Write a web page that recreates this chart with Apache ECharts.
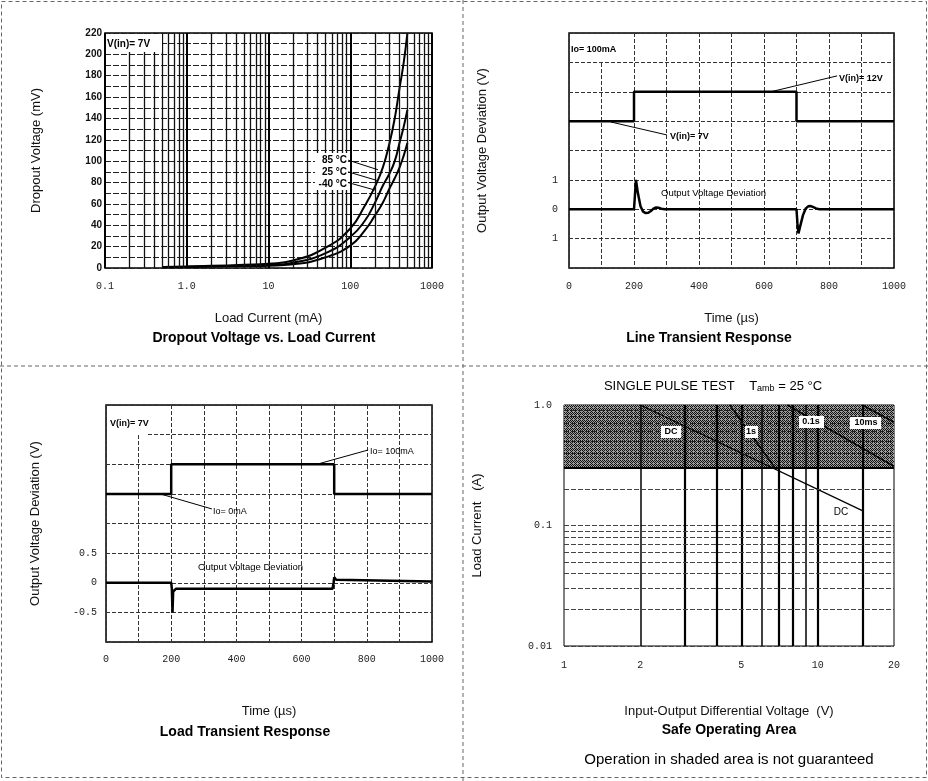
<!DOCTYPE html>
<html><head><meta charset="utf-8">
<script src="https://cdn.jsdelivr.net/npm/echarts@6/dist/echarts.min.js"></script>
<style>html,body{margin:0;padding:0;background:#fff}#c{width:928px;height:781px}</style>
</head><body><div id="c"></div>
<script>
// ================= DATA =================
// Panel 1: Dropout Voltage vs. Load Current
const loadCurrent_mA = [0.5, 1, 2, 5, 10, 20, 50, 100, 150, 200, 250, 300, 350, 400, 450, 500];
const dropout85C  = [1, 1.5, 2, 3, 4, 7, 19, 37, 58, 76, 94, 116, 140, 168, 192, 220];
const dropout25C  = [1, 1.2, 1.6, 2.2, 2.8, 5, 14, 29, 44, 61, 77, 88, 100, 117, 132, 148];
const dropoutM40C = [0.8, 1, 1.3, 1.8, 2.2, 3.5, 10, 21, 35, 49, 61, 74, 84, 94, 105, 117];
const dropoutXTickLabels = ['0.1', '1.0', '10', '100', '1000'];
const currentMinorGrid = [0.2,0.3,0.4,0.5,0.6,0.7,0.8,0.9, 2,3,4,5,6,7,8,9, 20,30,40,50,60,70,80,90, 200,300,400,500,600,700,800,900];
const tempLeaders = [[[94,101],[218,92]], [[94,90],[212,82]], [[94,80],[200,73]]];

// Panel 2: Line Transient Response
const lineStepTime = [0, 200, 200, 700, 700, 1000];
const lineStepVin  = [3, 3, 4, 4, 3, 3];          // V(in) 7V -> 12V trace (display level)
const lineDevTime = [0,200,206,212,220,228,236,244,252,260,268,276,284,295,700,703,706,712,720,728,736,744,752,760,770,1000];
const lineDev     = [0,0,1.0,0.55,0.1,-0.08,-0.13,-0.12,-0.06,0.02,0.06,0.05,0.02,0,0,-0.5,-0.82,-0.55,-0.2,0.02,0.1,0.11,0.07,0.03,0,0];
const lineYTickLabels = {'-1':'1', '0':'0', '1':'1'};
const lineLeaders = [[[621,4.0],[825,4.54]], [[129,2.97],[301,2.53]]];

// Panel 3: Load Transient Response
const loadStepTime = [0, 200, 200, 700, 700, 1000];
const loadStepIo   = [1.5, 1.5, 2, 2, 1.5, 1.5];  // Io 0mA -> 100mA trace (display level)
const loadDevTime = [0,200,202,204,206,210,215,695,698,700,702,706,712,1000];
const loadDev     = [0,0,-0.1,-0.5,-0.15,-0.12,-0.1,-0.1,0,0.09,0.1,0.05,0.02,0.02];
const loadYTickLabels = {'-0.5':'-0.5', '0':'0', '0.5':'0.5'};
const loadLeaders = [[[647,2.0],[804,2.24]], [[166,1.5],[325,1.245]]];

// Panel 4: Safe Operating Area
const soaXTicks = [1, 2, 5, 10, 20];
const soaYTickLabels = ['0.01', '0.1', '1.0'];
const soaShadeCurrent = [0.3, 1.0];
const soaVerticalGrid = [2,3,4,5,6,7,8,9,10,15];
const soaMinorCurrent = [0.02,0.03,0.04,0.05,0.06,0.07,0.08,0.09,0.2];
const soaShadeCurrentGrid = [0.4,0.5,0.6,0.7,0.8,0.9];
const soaDC   = [[2, 1.0], [15, 0.133]];
const soa1s   = [[4.5, 1.0], [6.8, 0.3]];
const soa01s  = [[7.6, 1.0], [20, 0.31]];
const soa10ms = [[15, 1.0], [20, 0.72]];

// ================= CHART =================
const zip = (a, b) => a.map((v, i) => [v, b[i]]);
const chart = echarts.init(document.getElementById('c'), null, {renderer: 'canvas'});

function makePattern() {
  const c = document.createElement('canvas'); c.width = 4; c.height = 4;
  const g = c.getContext('2d');
  g.fillStyle = '#9c9c9c'; g.fillRect(0, 0, 4, 4);
  g.fillStyle = '#111';
  [[0,0],[1,1],[2,2],[3,3],[2,0],[0,2],[3,1]].forEach(([x, y]) => g.fillRect(x, y, 1, 1));
  return c;
}

const labFont = {fontFamily: 'Liberation Mono', fontSize: 10, color: '#222'};
const nameFont = {fontFamily: 'Liberation Sans', fontSize: 13, color: '#111'};
const noLine = {show: false};
const gridDefaults = {containLabel: false, outerBoundsMode: 'none', show: true, borderColor: '#000', borderWidth: 1.5, backgroundColor: 'rgba(0,0,0,0)'};
const mlBase = {silent: true, symbol: ['none', 'none'], label: {show: false}, animation: false};

const leaderML = (arr) => arr.map(([a, b]) => [{coord: a, lineStyle: {color: '#000', width: 1, type: 'solid'}}, {coord: b}]);
const blackLine = (w) => ({color: '#000', width: w});

const option = {
  animation: false,
  backgroundColor: '#fff',
  grid: [
    Object.assign({left: 105, top: 33, width: 327, height: 235}, gridDefaults),
    Object.assign({left: 569, top: 33, width: 325, height: 235}, gridDefaults),
    Object.assign({left: 106, top: 405, width: 326, height: 237}, gridDefaults),
    Object.assign({left: 564, top: 405, width: 330, height: 241}, gridDefaults, {borderWidth: 1})
  ],
  xAxis: [
    {gridIndex: 0, type: 'log', logBase: 10, min: 0.1, max: 1000,
     axisLine: noLine, axisTick: noLine,
     axisLabel: Object.assign({margin: 13, formatter: v => dropoutXTickLabels[Math.round(Math.log10(v)) + 1]}, labFont),
     splitLine: {show: true, lineStyle: {color: '#000', width: 2}},
     name: 'Load Current (mA)', nameLocation: 'middle', nameGap: 44, nameTextStyle: nameFont},
    {gridIndex: 1, type: 'value', min: 0, max: 1000, interval: 100,
     axisLine: noLine, axisTick: noLine,
     axisLabel: Object.assign({margin: 13, formatter: v => (v % 200 === 0 ? String(v) : '')}, labFont),
     splitLine: {show: true, lineStyle: {color: '#333', width: 1, type: [4, 2]}},
     name: 'Time (µs)', nameLocation: 'middle', nameGap: 44, nameTextStyle: nameFont},
    {gridIndex: 2, type: 'value', min: 0, max: 1000, interval: 100,
     axisLine: noLine, axisTick: noLine,
     axisLabel: Object.assign({margin: 12, formatter: v => (v % 200 === 0 ? String(v) : '')}, labFont),
     splitLine: {show: true, lineStyle: {color: '#333', width: 1, type: [4, 2]}},
     name: 'Time (µs)', nameLocation: 'middle', nameGap: 63, nameTextStyle: nameFont},
    {gridIndex: 3, type: 'log', logBase: 10, min: 1, max: 20,
     axisLine: noLine, axisTick: noLine,
     axisLabel: Object.assign({margin: 14, customValues: soaXTicks, formatter: v => String(Math.round(v))}, labFont),
     splitLine: {show: false},
     name: 'Input-Output Differential Voltage  (V)', nameLocation: 'middle', nameGap: 59, nameTextStyle: nameFont}
  ],
  yAxis: [
    {gridIndex: 0, type: 'value', min: 0, max: 220, interval: 10,
     axisLine: noLine, axisTick: noLine,
     axisLabel: {margin: 3, fontFamily: 'Liberation Sans', fontWeight: 'bold', fontSize: 10, color: '#111',
                 formatter: v => (v % 20 === 0 ? String(v) : '')},
     splitLine: {show: true, lineStyle: {color: '#222', width: 1, type: [6, 2]}},
     name: 'Dropout Voltage (mV)', nameLocation: 'middle', nameGap: 62, nameTextStyle: nameFont},
    {gridIndex: 1, type: 'value', min: -2, max: 6, interval: 1,
     axisLine: noLine, axisTick: noLine,
     axisLabel: Object.assign({margin: 11, formatter: v => lineYTickLabels[String(v)] || ''}, labFont),
     splitLine: {show: true, lineStyle: {color: '#333', width: 1, type: [4, 2]}},
     name: 'Output Voltage Deviation (V)', nameLocation: 'middle', nameGap: 80, nameTextStyle: nameFont},
    {gridIndex: 2, type: 'value', min: -1, max: 3, interval: 0.5,
     axisLine: noLine, axisTick: noLine,
     axisLabel: Object.assign({margin: 9, formatter: v => loadYTickLabels[String(v)] || ''}, labFont),
     splitLine: {show: true, lineStyle: {color: '#333', width: 1, type: [4, 2]}},
     name: 'Output Voltage Deviation (V)', nameLocation: 'middle', nameGap: 64, nameTextStyle: nameFont},
    {gridIndex: 3, type: 'log', logBase: 10, min: 0.01, max: 1,
     axisLine: noLine, axisTick: noLine,
     axisLabel: Object.assign({margin: 12, formatter: v => soaYTickLabels[Math.round(Math.log10(v)) + 2]}, labFont),
     splitLine: {show: true, lineStyle: {color: '#444', width: 1, type: [5, 2]}},
     name: 'Load Current   (A)', nameLocation: 'middle', nameGap: 80, nameTextStyle: nameFont}
  ],
  series: [
    // ---- Panel 1 ----
    {type: 'line', xAxisIndex: 0, yAxisIndex: 0, data: [], z: 1,
     markLine: Object.assign({}, mlBase, {data: currentMinorGrid.map(v => ({xAxis: v, lineStyle: {color: '#111', width: 1.3, type: 'solid'}}))})},
    {name: '85 °C', type: 'line', xAxisIndex: 0, yAxisIndex: 0, smooth: true, symbol: 'none', z: 3,
     lineStyle: blackLine(2), data: zip(loadCurrent_mA, dropout85C),
     markLine: Object.assign({}, mlBase, {data: leaderML(tempLeaders)})},
    {name: '25 °C', type: 'line', xAxisIndex: 0, yAxisIndex: 0, smooth: true, symbol: 'none', z: 3,
     lineStyle: blackLine(2), data: zip(loadCurrent_mA, dropout25C)},
    {name: '-40 °C', type: 'line', xAxisIndex: 0, yAxisIndex: 0, smooth: true, symbol: 'none', z: 3,
     lineStyle: blackLine(2), data: zip(loadCurrent_mA, dropoutM40C)},
    // ---- Panel 2 ----
    {name: 'V(in)', type: 'line', xAxisIndex: 1, yAxisIndex: 1, symbol: 'none', z: 3,
     lineStyle: blackLine(2.5), data: zip(lineStepTime, lineStepVin),
     markLine: Object.assign({}, mlBase, {data: leaderML(lineLeaders)})},
    {name: 'Output Voltage Deviation', type: 'line', xAxisIndex: 1, yAxisIndex: 1, symbol: 'none', z: 3,
     lineStyle: blackLine(2.5), data: zip(lineDevTime, lineDev)},
    // ---- Panel 3 ----
    {name: 'Io', type: 'line', xAxisIndex: 2, yAxisIndex: 2, symbol: 'none', z: 3,
     lineStyle: blackLine(2.5), data: zip(loadStepTime, loadStepIo),
     markLine: Object.assign({}, mlBase, {data: leaderML(loadLeaders)})},
    {name: 'Output Voltage Deviation ', type: 'line', xAxisIndex: 2, yAxisIndex: 2, symbol: 'none', z: 3,
     lineStyle: blackLine(2.5), data: zip(loadDevTime, loadDev)},
    // ---- Panel 4 ----
    {type: 'line', xAxisIndex: 3, yAxisIndex: 3, data: [], z: 1,
     markArea: {silent: true, itemStyle: {color: {image: makePattern(), repeat: 'repeat'}},
                data: [[{xAxis: soaXTicks[0], yAxis: soaShadeCurrent[0]}, {xAxis: soaXTicks[soaXTicks.length - 1], yAxis: soaShadeCurrent[1]}]]}},
    {type: 'line', xAxisIndex: 3, yAxisIndex: 3, data: [], z: 2,
     markLine: Object.assign({}, mlBase, {data: []
       .concat(soaVerticalGrid.map(v => ({xAxis: v, lineStyle: {color: '#000', width: (v === 2 || v === 6 || v === 9) ? 1.5 : 2.2, type: 'solid'}})))
       .concat(soaMinorCurrent.map(v => ({yAxis: v, lineStyle: {color: '#444', width: 1, type: [5, 2]}})))
       .concat(soaShadeCurrentGrid.map(v => ({yAxis: v, lineStyle: {color: '#222', width: 1, type: [5, 2]}})))
       .concat([{yAxis: soaShadeCurrent[0], lineStyle: {color: '#000', width: 2, type: 'solid'}}])})},
    {name: 'DC', type: 'line', xAxisIndex: 3, yAxisIndex: 3, symbol: 'none', z: 3, lineStyle: blackLine(1.3), data: soaDC},
    {name: '1s', type: 'line', xAxisIndex: 3, yAxisIndex: 3, symbol: 'none', z: 3, lineStyle: blackLine(1.5), data: soa1s},
    {name: '0.1s', type: 'line', xAxisIndex: 3, yAxisIndex: 3, symbol: 'none', z: 3, lineStyle: blackLine(1.5), data: soa01s},
    {name: '10ms', type: 'line', xAxisIndex: 3, yAxisIndex: 3, symbol: 'none', z: 3, lineStyle: blackLine(1.5), data: soa10ms}
  ]
};

// ---- annotations / titles (text) ----
function txt(x, y, text, o) {
  o = o || {};
  return {type: 'text', x: x, y: y, z: 60, silent: true,
    style: {text: text, fill: '#000', fontFamily: o.family || 'Liberation Sans', fontSize: o.size || 10,
            fontWeight: o.weight || 'normal', textAlign: o.align || 'left', align: o.align || 'left',
            textVerticalAlign: 'middle', verticalAlign: 'middle', rich: o.rich}};
}
function box(x, y, w, h) {
  return {type: 'rect', z: 55, silent: true, shape: {x: x, y: y, width: w, height: h}, style: {fill: '#fff'}};
}
const dash = {stroke: '#666', lineWidth: 1, lineDash: [4, 3]};
option.graphic = [
  {type: 'rect', z: 40, silent: true, shape: {x: 1.5, y: 1.5, width: 925, height: 776}, style: Object.assign({fill: 'none'}, dash)},
  {type: 'line', z: 40, silent: true, shape: {x1: 463, y1: 0, x2: 463, y2: 781}, style: dash},
  {type: 'line', z: 40, silent: true, shape: {x1: 0, y1: 366, x2: 928, y2: 366}, style: dash},
  // titles
  txt(264, 338, 'Dropout Voltage vs. Load Current', {size: 14, weight: 'bold', align: 'center'}),
  txt(709, 338, 'Line Transient Response', {size: 14, weight: 'bold', align: 'center'}),
  txt(245, 732, 'Load Transient Response', {size: 14, weight: 'bold', align: 'center'}),
  txt(729, 730, 'Safe Operating Area', {size: 14, weight: 'bold', align: 'center'}),
  txt(729, 760, 'Operation in shaded area is not guaranteed', {size: 15, align: 'center'}),
  txt(713, 386, 'SINGLE PULSE TEST    T{s|amb} = 25 °C', {size: 13, align: 'center', rich: {s: {fontSize: 9, fontFamily: 'Liberation Sans', padding: [5, 0, 0, 0]}}}),
  // panel 1
  box(106, 34, 56, 18), txt(107, 44, 'V(in)= 7V', {size: 10, weight: 'bold'}),
  box(315, 153, 33, 37),
  txt(347, 160, '85 °C', {size: 10, weight: 'bold', align: 'right'}),
  txt(347, 172, '25 °C', {size: 10, weight: 'bold', align: 'right'}),
  txt(347, 184, '-40 °C', {size: 10, weight: 'bold', align: 'right'}),
  // panel 2
  box(570, 34, 57, 28), txt(571, 50, 'Io= 100mA', {size: 9, weight: 'bold'}),
  txt(839, 79, 'V(in)= 12V', {size: 9, weight: 'bold'}),
  txt(670, 137, 'V(in)= 7V', {size: 9, weight: 'bold'}),
  txt(661, 193, 'Output Voltage Deviation', {size: 9.5}),
  // panel 3
  box(107, 406, 40, 29), txt(110, 424, 'V(in)= 7V', {size: 9, weight: 'bold'}),
  txt(370, 452, 'Io= 100mA', {size: 9}),
  txt(213, 512, 'Io= 0mA', {size: 9}),
  txt(198, 567, 'Output Voltage Deviation', {size: 9.5}),
  // panel 4
  box(661, 426, 20, 12), txt(671, 432, 'DC', {size: 9, weight: 'bold', align: 'center'}),
  box(745, 426, 13, 12), txt(751, 432, '1s', {size: 9, weight: 'bold', align: 'center'}),
  box(799, 416, 25, 12), txt(811, 422, '0.1s', {size: 9, weight: 'bold', align: 'center'}),
  box(850, 417, 31, 12), txt(866, 423, '10ms', {size: 9, weight: 'bold', align: 'center'}),
  txt(841, 512, 'DC', {size: 10, align: 'center'})
];

chart.setOption(option);
</script>
</body></html>
